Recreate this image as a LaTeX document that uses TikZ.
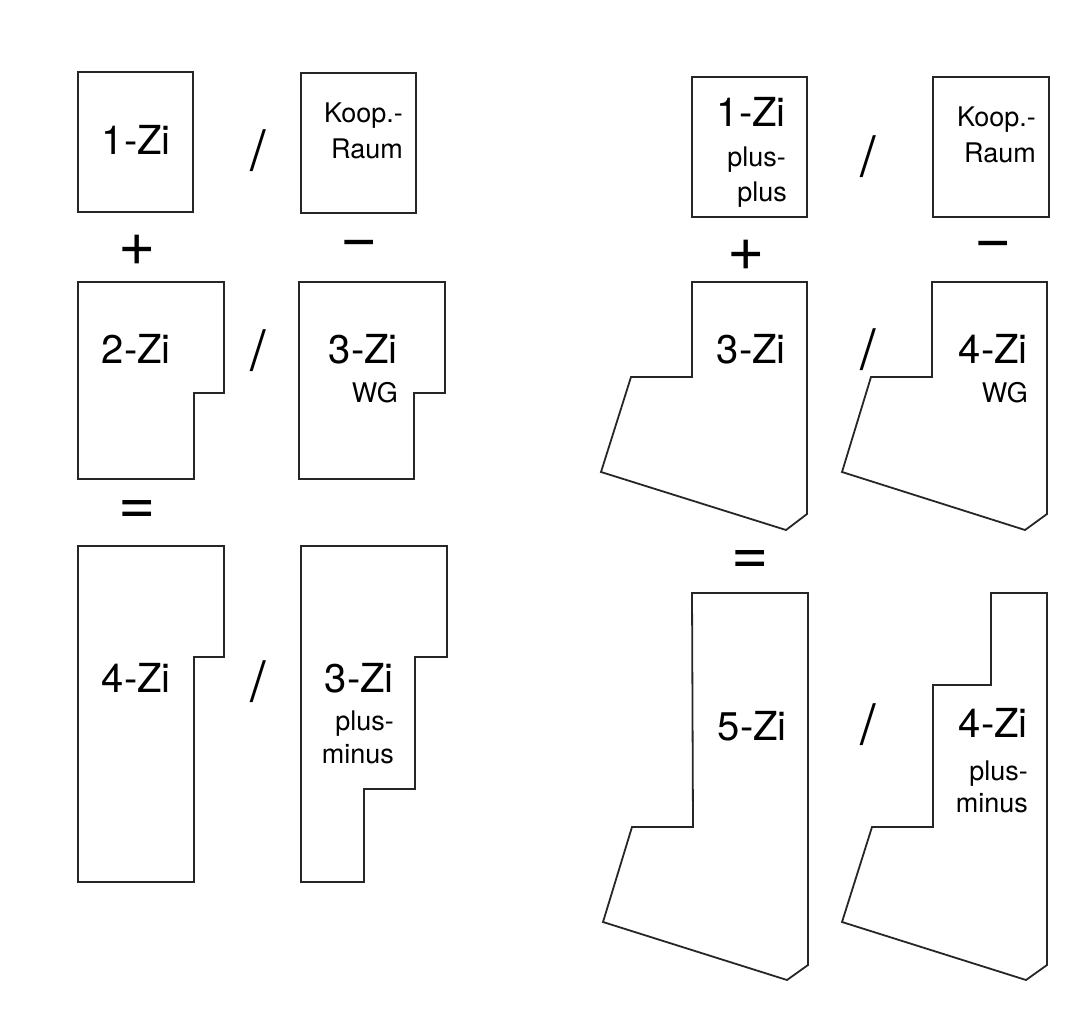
\documentclass[tikz,border=0pt]{standalone}
\usepackage{fontspec}
\setmainfont{TeX Gyre Heros}
\usetikzlibrary{positioning}

\tikzset{
  plan/.style={draw=black!85, line width=1.8pt, line join=miter},
  big/.style={font=\fontsize{40}{42}\selectfont, inner sep=0pt, anchor=base east},
  small/.style={font=\fontsize{27}{29}\selectfont, inner sep=0pt, anchor=base east},
  op/.style={font=\fontsize{64}{66}\selectfont, inner sep=0pt},
  slash/.style={font=\fontsize{56}{58}\selectfont, inner sep=0pt},
}

\begin{document}
\begin{tikzpicture}[x=1pt, y=-1pt]
        \useasboundingbox (0,0) rectangle (1083,1032);
        % Left: room plans
        \draw[plan] (78,72) rectangle (193,212);
        \draw[plan] (301,73) rectangle (416,213);
        \draw[plan] (78,282) -- (224,282) -- (224,393) -- (194,393) -- (194,479) -- (78,479) -- cycle;
        \draw[plan] (299,282) -- (445,282) -- (445,393) -- (414,393) -- (414,479) -- (299,479) -- cycle;
        \draw[plan] (78,546) -- (224,546) -- (224,657) -- (194,657) -- (194,882) -- (78,882) -- cycle;
        \draw[plan] (301,546) -- (447,546) -- (447,657) -- (415,657) -- (415,789) -- (364,789) -- (364,882) -- (301,882) -- cycle;
        % Right: room plans
        \draw[plan] (692,77) rectangle (807,217);
        \draw[plan] (933,77) rectangle (1049,217);
        \draw[plan] (692,282) -- (807,282) -- (807,514) -- (786,530) -- (601,472) -- (631,377) -- (692,377) -- cycle;
        \draw[plan] (932,282) -- (1047,282) -- (1047,514) -- (1025,530) -- (842,472) -- (871,377) -- (932,377) -- cycle;
        \draw[plan] (692,593) -- (808,593) -- (808,965) -- (787,980) -- (603,922) -- (632,827) -- (693,827) -- cycle;
        \draw[plan] (991,593) -- (1047,593) -- (1047,965) -- (1026,980) -- (842,922) -- (872,827) -- (933,827) -- (933,685) -- (991,685) -- cycle;
        % Labels left
        \node[big] (zi1) at (171,155) {1-Zi};
        \node[small] (koop) at (403,123) {Koop.-};
        \node[small] (raum) at (403,159) {Raum};
        \node[big] (zi2) at (171,363) {2-Zi};
        \node[big] (zi3) at (398,363) {3-Zi};
        \node[small] (wg) at (398,402) {WG};
        \node[big] (zi4) at (171,692) {4-Zi};
        \node[big] (zi3b) at (394,692) {3-Zi};
        \node[small] (plusa) at (394,730) {plus-};
        \node[small] (minusa) at (394,763) {minus};
        % Labels right
        \node[big] (rzi1) at (786,127) {1-Zi};
        \node[small] (rplusa) at (786,167) {plus-};
        \node[small] (rplusb) at (787,202) {plus};
        \node[small] (rkoop) at (1036,127) {Koop.-};
        \node[small] (rraum) at (1036,163) {Raum};
        \node[big] (rzi3) at (786,363) {3-Zi};
        \node[big] (rzi4) at (1028,363) {4-Zi};
        \node[small] (rwg) at (1028,402) {WG};
        \node[big] (rzi5) at (787,740) {5-Zi};
        \node[big] (rzi4b) at (1028,737) {4-Zi};
        \node[small] (rplusc) at (1028,780) {plus-};
        \node[small] (rminus) at (1028,812) {minus};
        % Operators
        \node[op] (plusl) at (137,250) {+};
        \node[op] (minusl) at (359,249) {\char"2212};
        \node[op] (eql) at (137,512) {=};
        \node[op] (plusr) at (746,255) {+};
        \node[op] (minusr) at (993,250) {\char"2212};
        \node[op] (eqr) at (750,562) {=};
        % Slashes
        \foreach \name/\pos in {s1/{(258,151)}, s2/{(258,351)}, s3/{(258,682)}, s4/{(868,157)}, s5/{(868,350)}, s6/{(868,725)}} {
            \node[slash] (\name) at \pos {/};
          }
      \end{tikzpicture}
\end{document}
